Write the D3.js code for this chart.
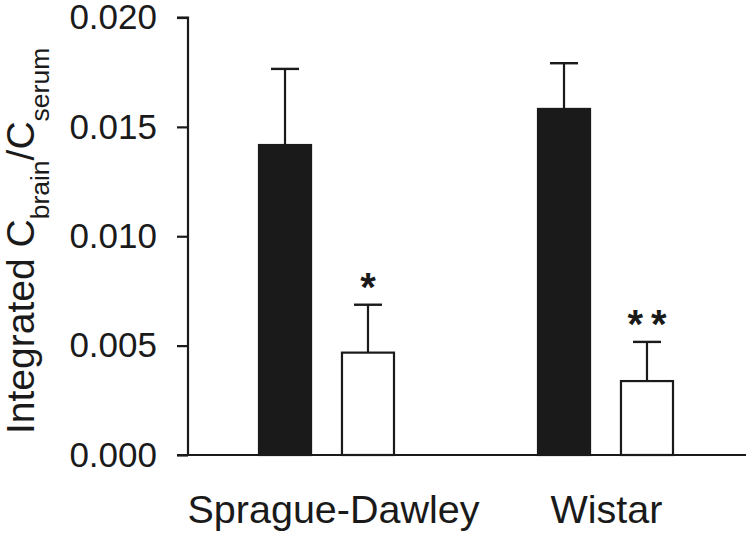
<!DOCTYPE html>
<html>
<head>
<meta charset="utf-8">
<script src="https://cdn.jsdelivr.net/npm/d3@7"></script>
<style>
  html, body { margin: 0; padding: 0; background: #fff; }
  svg { display: block; font-family: "Liberation Sans", Arial, Helvetica, sans-serif; }
</style>
</head>
<body>
<svg id="chart" width="750" height="535"></svg>
<script>
// ---- data ----
const strains = ["Sprague-Dawley", "Wistar"];
const conditions = ["control", "treated"];
const means = {
  "Sprague-Dawley": [0.01417, 0.00468],
  "Wistar": [0.01582, 0.00338]
};
const errors = {
  "Sprague-Dawley": [0.00348, 0.00219],
  "Wistar": [0.00209, 0.00179]
};
const significance = {
  "Sprague-Dawley": ["", "*"],
  "Wistar": ["", "**"]
};
const yTicks = [0, 0.005, 0.010, 0.015, 0.020];

// ---- layout ----
const svg = d3.select("#chart");
const x0 = 188, x1 = 746, yBottom = 455, yTop = 17.5;

const y = d3.scaleLinear().domain([0, 0.020]).range([yBottom, yTop]);
const xGroup = d3.scaleBand().domain(strains).range([x0, x1]).padding(0);
const xSub = d3.scaleBand().domain(conditions).range([71, 206]).paddingInner(0.373).paddingOuter(0);
const fills = { control: "#1a1a1a", treated: "#ffffff" };

// y axis
const yAxis = d3.axisLeft(y).tickValues(yTicks).tickFormat(d3.format(".3f"))
  .tickSize(11).tickPadding(20);
const gy = svg.append("g").attr("transform", `translate(${x0},0)`).call(yAxis);
gy.select(".domain").attr("stroke", "#1a1a1a").attr("stroke-width", 2.2)
  .attr("d", `M-11,${yTop}H0V${yBottom}`);
gy.selectAll(".tick line").attr("stroke", "#1a1a1a").attr("stroke-width", 2.2);
gy.selectAll(".tick text").attr("font-size", 35).attr("fill", "#1a1a1a")
  .attr("font-family", "Liberation Sans, Arial, sans-serif");

// x axis (baseline only, no ticks)
const xAxis = d3.axisBottom(xGroup).tickSize(0).tickPadding(68);
const gx = svg.append("g").attr("transform", `translate(0,${yBottom})`).call(xAxis);
gx.select(".domain").attr("stroke", "#1a1a1a").attr("stroke-width", 2.2)
  .attr("d", `M${x0 - 11},0H${x1}`);
gx.selectAll(".tick text").attr("font-size", 39.5).attr("fill", "#1a1a1a")
  .attr("font-family", "Liberation Sans, Arial, sans-serif")
  .attr("dy", "0");
gx.selectAll(".tick").filter(d => d === "Sprague-Dawley").select("text").attr("dx", 6);

// bars
const rows = [];
strains.forEach(s => conditions.forEach((c, i) => rows.push({
  strain: s, cond: c, mean: means[s][i], err: errors[s][i], sig: significance[s][i]
})));

const g = svg.append("g");
const bx = d => xGroup(d.strain) + xSub(d.cond);
const bw = xSub.bandwidth();

// error bars (behind bars)
g.selectAll("line.err").data(rows).join("line").attr("class", "err")
  .attr("x1", d => bx(d) + bw / 2).attr("x2", d => bx(d) + bw / 2)
  .attr("y1", d => y(d.mean)).attr("y2", d => y(d.mean + d.err))
  .attr("stroke", "#1a1a1a").attr("stroke-width", 2.2);
g.selectAll("line.cap").data(rows).join("line").attr("class", "cap")
  .attr("x1", d => bx(d) + bw / 2 - 14).attr("x2", d => bx(d) + bw / 2 + 14)
  .attr("y1", d => y(d.mean + d.err)).attr("y2", d => y(d.mean + d.err))
  .attr("stroke", "#1a1a1a").attr("stroke-width", 2.4);

g.selectAll("rect.bar").data(rows).join("rect").attr("class", "bar")
  .attr("x", d => bx(d)).attr("width", bw)
  .attr("y", d => y(d.mean)).attr("height", d => y(0) - y(d.mean))
  .attr("fill", d => fills[d.cond])
  .attr("stroke", "#1a1a1a").attr("stroke-width", 2.2);

// significance markers
g.selectAll("text.sig").data(rows.filter(d => d.sig)).join("text").attr("class", "sig")
  .attr("x", d => bx(d) + bw / 2 + (d.sig.length > 1 ? 4 : 0))
  .attr("y", d => y(d.mean + d.err) - 4)
  .attr("text-anchor", "middle")
  .attr("font-size", 40).attr("font-weight", "bold").attr("fill", "#1a1a1a")
  .attr("letter-spacing", d => d.sig.length > 1 ? 8 : 0)
  .text(d => d.sig);

// y-axis title
const title = svg.append("text")
  .attr("transform", "translate(34,434) rotate(-90)")
  .attr("font-size", 39).attr("fill", "#1a1a1a")
  .attr("text-anchor", "start");
title.append("tspan").text("Integrated C");
title.append("tspan").attr("font-size", 26.5).attr("dy", 15).text("brain");
title.append("tspan").attr("dy", -15).text("/C");
title.append("tspan").attr("font-size", 26.5).attr("dy", 15).text("serum");
</script>
</body>
</html>
